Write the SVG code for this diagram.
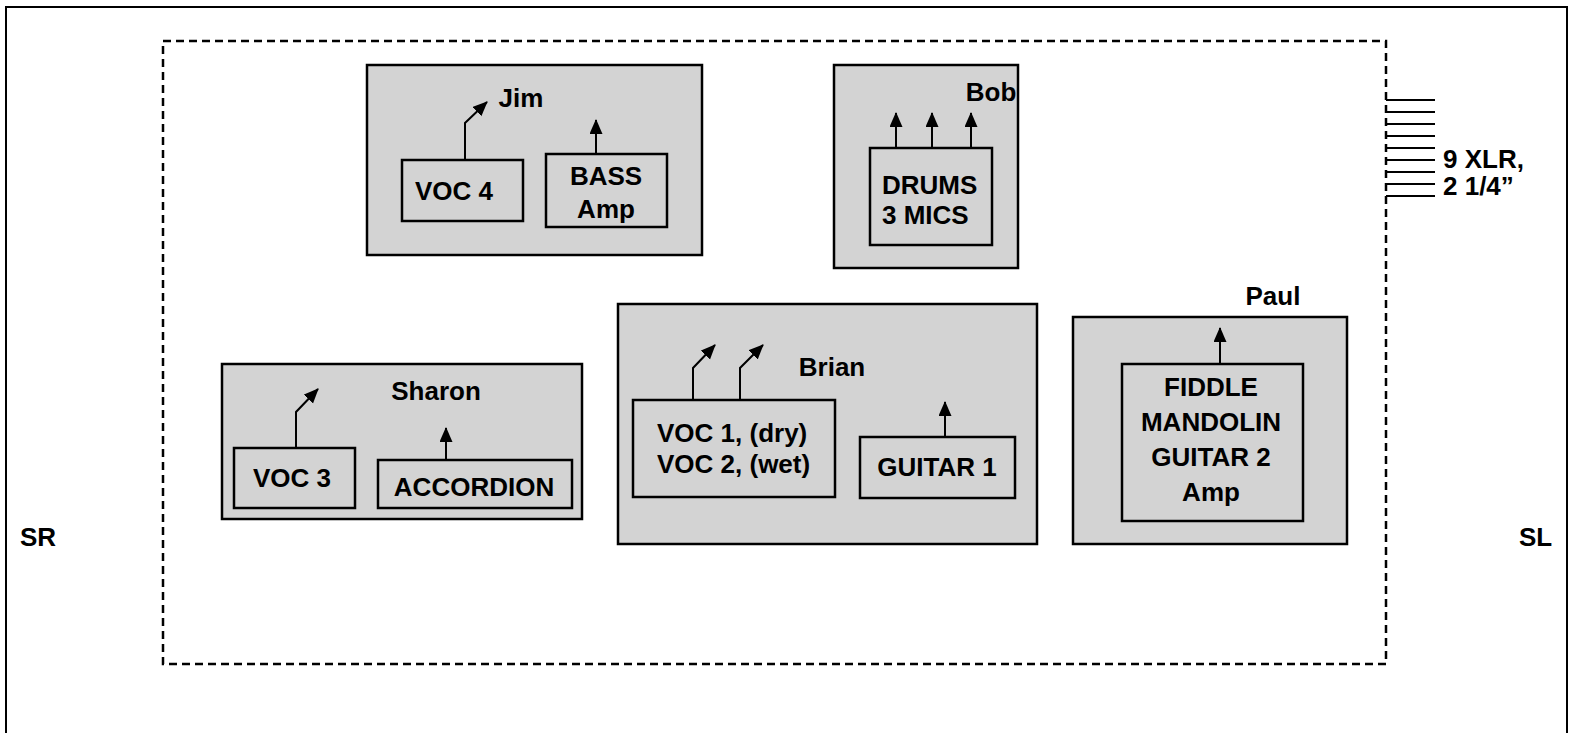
<svg xmlns="http://www.w3.org/2000/svg" width="1573" height="733" viewBox="0 0 1573 733">
<defs>
<marker id="ah" markerUnits="userSpaceOnUse" markerWidth="16" markerHeight="14" refX="14" refY="6.5" orient="auto">
<path d="M0,0 L15,6.5 L0,13 Z" fill="#000"/>
</marker>
<style>
.zone{fill:#d3d3d3;stroke:#000;stroke-width:2.5}
.box{fill:none;stroke:#000;stroke-width:2.5}
.t{font-family:"Liberation Sans",Arial,sans-serif;font-weight:bold;fill:#000;font-size:26px}
.w{fill:none;stroke:#000;stroke-width:2}
.mic{fill:none;stroke:#000;stroke-width:2;marker-end:url(#ah)}
</style>
</defs>
<rect width="1573" height="733" fill="#fff"/>
<rect x="6" y="7" width="1561" height="740" fill="none" stroke="#000" stroke-width="2"/>
<rect x="163" y="41" width="1223" height="623" fill="none" stroke="#000" stroke-width="2.5" stroke-dasharray="8,5"/>

<g id="jim">
<rect class="zone" x="367" y="65" width="335" height="190"/>
<text class="t" x="521" y="107" text-anchor="middle">Jim</text>
<rect class="box" x="402" y="160" width="121" height="61"/>
<text class="t" x="454" y="200" text-anchor="middle">VOC 4</text>
<rect class="box" x="546" y="154" width="121" height="73"/>
<text class="t" x="606" y="185" text-anchor="middle">BASS</text>
<text class="t" x="606" y="218" text-anchor="middle">Amp</text>
</g>

<g id="bob">
<rect class="zone" x="834" y="65" width="184" height="203"/>
<text class="t" x="991" y="101" text-anchor="middle">Bob</text>
<rect class="box" x="870" y="148" width="122" height="97"/>
<text class="t" x="882" y="194">DRUMS</text>
<text class="t" x="882" y="224">3 MICS</text>
</g>

<g id="sharon">
<rect class="zone" x="222" y="364" width="360" height="155"/>
<text class="t" x="436" y="400" text-anchor="middle">Sharon</text>
<rect class="box" x="234" y="448" width="121" height="60"/>
<text class="t" x="292" y="487" text-anchor="middle">VOC 3</text>
<rect class="box" x="378" y="460" width="194" height="48"/>
<text class="t" x="474" y="496" text-anchor="middle">ACCORDION</text>
</g>

<g id="brian">
<rect class="zone" x="618" y="304" width="419" height="240"/>
<text class="t" x="832" y="376" text-anchor="middle">Brian</text>
<rect class="box" x="633" y="400" width="202" height="97"/>
<text class="t" x="657" y="442">VOC 1, (dry)</text>
<text class="t" x="657" y="473">VOC 2, (wet)</text>
<rect class="box" x="860" y="437" width="155" height="61"/>
<text class="t" x="937" y="476" text-anchor="middle">GUITAR 1</text>
</g>

<g id="paul">
<rect class="zone" x="1073" y="317" width="274" height="227"/>
<text class="t" x="1273" y="305" text-anchor="middle">Paul</text>
<rect class="box" x="1122" y="364" width="181" height="157"/>
<text class="t" x="1211" y="396" text-anchor="middle">FIDDLE</text>
<text class="t" x="1211" y="431" text-anchor="middle">MANDOLIN</text>
<text class="t" x="1211" y="466" text-anchor="middle">GUITAR 2</text>
<text class="t" x="1211" y="501" text-anchor="middle">Amp</text>
</g>

<g id="xlr">
<text class="t" x="1443" y="168">9 XLR,</text>
<text class="t" x="1443" y="195">2 1/4”</text>
</g>

<g id="sides">
<text class="t" x="20" y="546">SR</text>
<text class="t" x="1519" y="546">SL</text>
</g>

<g id="connectors">
<polyline class="mic" points="465,160 465,123 487,102"/>
<line class="mic" x1="596" y1="154" x2="596" y2="120"/>
<line class="mic" x1="896" y1="148" x2="896" y2="113"/>
<line class="mic" x1="932" y1="148" x2="932" y2="113"/>
<line class="mic" x1="971" y1="148" x2="971" y2="113"/>
<polyline class="mic" points="296,448 296,412 318,389"/>
<line class="mic" x1="446" y1="460" x2="446" y2="428"/>
<polyline class="mic" points="693,400 693,368 715,345"/>
<polyline class="mic" points="740,400 740,368 763,345"/>
<line class="mic" x1="945" y1="437" x2="945" y2="402"/>
<line class="mic" x1="1220" y1="364" x2="1220" y2="328"/>
<path class="w" d="M1386,100 H1435 M1386,112 H1435 M1386,124 H1435 M1386,136 H1435 M1386,148 H1435 M1386,160 H1435 M1386,172 H1435 M1386,184 H1435 M1386,196 H1435"/>
</g>
</svg>
